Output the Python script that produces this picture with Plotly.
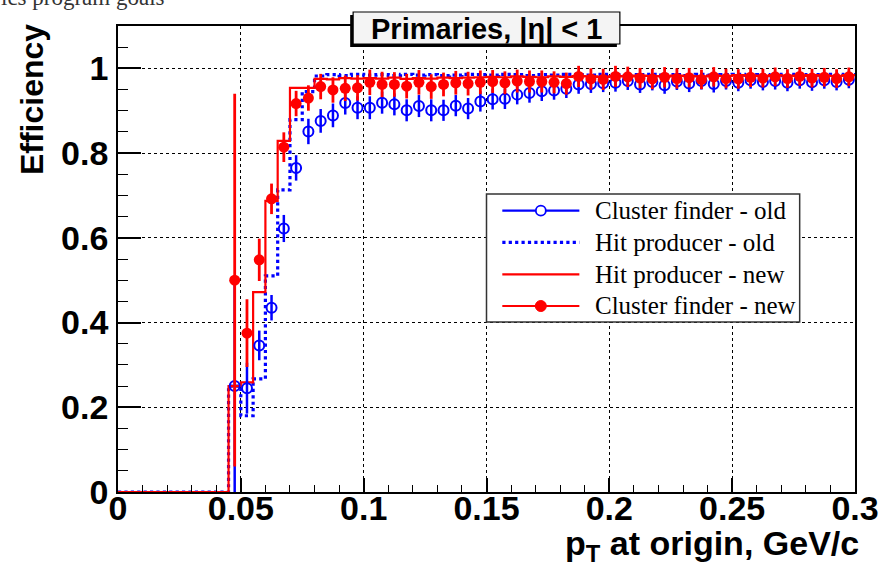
import plotly.graph_objects as go

# ---------------- data ----------------
bin_edges = [0.0, 0.005, 0.01, 0.015, 0.02, 0.025, 0.03, 0.035, 0.04, 0.045,
             0.05, 0.055, 0.06, 0.065, 0.07, 0.075, 0.08, 0.085, 0.09, 0.095,
             0.1, 0.105, 0.11, 0.115, 0.12, 0.125, 0.13, 0.135, 0.14, 0.145,
             0.15, 0.155, 0.16, 0.165, 0.17, 0.175, 0.18, 0.185, 0.19, 0.195,
             0.2, 0.205, 0.21, 0.215, 0.22, 0.225, 0.23, 0.235, 0.24, 0.245,
             0.25, 0.255, 0.26, 0.265, 0.27, 0.275, 0.28, 0.285, 0.29, 0.295, 0.3]

hit_new = [0, 0, 0, 0, 0, 0, 0, 0, 0, 0.250,
           0.259, 0.472, 0.687, 0.829, 0.954, 0.954, 0.975, 0.974, 0.977, 0.976,
           0.977, 0.976, 0.978, 0.975, 0.977, 0.976, 0.978, 0.977, 0.978, 0.979,
           0.980, 0.979, 0.981, 0.980, 0.979, 0.981, 0.980, 0.982, 0.981, 0.980,
           0.982, 0.981, 0.983, 0.982, 0.981, 0.983, 0.982, 0.981, 0.983, 0.982,
           0.984, 0.983, 0.982, 0.984, 0.983, 0.982, 0.984, 0.983, 0.982, 0.984]

hit_old = [0, 0, 0, 0, 0, 0, 0, 0, 0, 0.250,
           0.180, 0.267, 0.510, 0.713, 0.879, 0.945, 0.982, 0.985, 0.983, 0.986,
           0.984, 0.985, 0.983, 0.986, 0.984, 0.985, 0.983, 0.984, 0.986, 0.985,
           0.984, 0.986, 0.985, 0.983, 0.985, 0.984, 0.986, 0.985, 0.984, 0.986,
           0.985, 0.983, 0.985, 0.986, 0.984, 0.985, 0.983, 0.986, 0.984, 0.985,
           0.986, 0.984, 0.985, 0.983, 0.986, 0.985, 0.984, 0.985, 0.986, 0.985]

pt_centers = [0.0475, 0.0525, 0.0575, 0.0625, 0.0675, 0.0725, 0.0775, 0.0825, 0.0875, 0.0925,
              0.0975, 0.1025, 0.1075, 0.1125, 0.1175, 0.1225, 0.1275, 0.1325, 0.1375, 0.1425,
              0.1475, 0.1525, 0.1575, 0.1625, 0.1675, 0.1725, 0.1775, 0.1825, 0.1875, 0.1925,
              0.1975, 0.2025, 0.2075, 0.2125, 0.2175, 0.2225, 0.2275, 0.2325, 0.2375, 0.2425,
              0.2475, 0.2525, 0.2575, 0.2625, 0.2675, 0.2725, 0.2775, 0.2825, 0.2875, 0.2925,
              0.2975]

cluster_old = [0.250, 0.245, 0.346, 0.435, 0.622, 0.765, 0.851, 0.876, 0.889, 0.918,
               0.907, 0.907, 0.919, 0.915, 0.901, 0.911, 0.901, 0.901, 0.912, 0.905,
               0.922, 0.927, 0.928, 0.938, 0.942, 0.946, 0.948, 0.952, 0.962, 0.963,
               0.965, 0.966, 0.970, 0.962, 0.968, 0.960, 0.969, 0.964, 0.970, 0.963,
               0.970, 0.966, 0.972, 0.968, 0.970, 0.966, 0.972, 0.967, 0.972, 0.968,
               0.973]
cluster_old_err = [0.250, 0.060, 0.035, 0.030, 0.032, 0.030, 0.030, 0.028, 0.028, 0.027,
                   0.027, 0.027, 0.026, 0.026, 0.026, 0.026, 0.026, 0.025, 0.025, 0.025,
                   0.024, 0.024, 0.024, 0.023, 0.023, 0.023, 0.022, 0.022, 0.022, 0.021,
                   0.021, 0.021, 0.021, 0.020, 0.020, 0.020, 0.020, 0.020, 0.020, 0.020,
                   0.020, 0.020, 0.020, 0.020, 0.020, 0.020, 0.020, 0.020, 0.020, 0.020,
                   0.020]

cluster_new = [0.500, 0.375, 0.548, 0.692, 0.814, 0.917, 0.930, 0.957, 0.949, 0.953,
               0.954, 0.967, 0.962, 0.962, 0.958, 0.967, 0.957, 0.962, 0.966, 0.964,
               0.967, 0.969, 0.966, 0.970, 0.969, 0.969, 0.967, 0.964, 0.981, 0.975,
               0.974, 0.981, 0.980, 0.977, 0.975, 0.979, 0.976, 0.978, 0.974, 0.980,
               0.976, 0.975, 0.979, 0.977, 0.980, 0.976, 0.981, 0.977, 0.979, 0.976,
               0.980]
cluster_new_err = [0.440, 0.080, 0.050, 0.036, 0.035, 0.030, 0.030, 0.030, 0.030, 0.030,
                   0.030, 0.030, 0.030, 0.029, 0.029, 0.029, 0.029, 0.028, 0.028, 0.028,
                   0.028, 0.027, 0.027, 0.027, 0.026, 0.026, 0.026, 0.026, 0.025, 0.025,
                   0.025, 0.025, 0.024, 0.024, 0.024, 0.024, 0.024, 0.023, 0.023, 0.023,
                   0.023, 0.023, 0.023, 0.022, 0.022, 0.022, 0.022, 0.022, 0.022, 0.022,
                   0.022]

x_ticks = [0, 0.05, 0.1, 0.15, 0.2, 0.25, 0.3]
x_tick_labels = ["0", "0.05", "0.1", "0.15", "0.2", "0.25", "0.3"]
y_ticks = [0, 0.2, 0.4, 0.6, 0.8, 1.0]
y_tick_labels = ["0", "0.2", "0.4", "0.6", "0.8", "1"]

legend_labels = ["Cluster finder - old", "Hit producer - old",
                 "Hit producer - new", "Cluster finder - new"]

title_text = "Primaries, |η| < 1"
x_title = "p<sub>T</sub> at origin, GeV/c"
y_title = "Efficiency"

BLUE = "#0000ff"
RED = "#ff0000"

# ---------------- geometry helpers (pixels -> paper) ----------------
W, H = 891, 566
L, R, T, B = 118, 27, 26, 74
PW, PH = W - L - R, H - T - B


def px(xp):
    return (xp - L) / PW


def py(yp):
    return (H - B - yp) / PH


fig = go.Figure()

# histograms (step lines)
fig.add_trace(go.Scatter(
    x=bin_edges, y=hit_old + [hit_old[-1]], mode="lines", line_shape="hv",
    line=dict(color=BLUE, width=3.2, dash="dot"), showlegend=False))
fig.add_trace(go.Scatter(
    x=bin_edges, y=hit_new + [hit_new[-1]], mode="lines", line_shape="hv",
    line=dict(color=RED, width=2.2), showlegend=False))

# points with errors
fig.add_trace(go.Scatter(
    x=pt_centers, y=cluster_old, mode="markers",
    marker=dict(symbol="circle-open", size=10, color=BLUE, line=dict(width=2, color=BLUE)),
    error_y=dict(type="data", array=cluster_old_err, color=BLUE, thickness=2.5, width=0),
    showlegend=False))
fig.add_trace(go.Scatter(
    x=pt_centers, y=cluster_new, mode="markers",
    marker=dict(symbol="circle", size=11, color=RED),
    error_y=dict(type="data", array=cluster_new_err, color=RED, thickness=2.8, width=0),
    showlegend=False))

tickfont = dict(family="Liberation Sans", size=34, color="black", weight="bold")

fig.update_xaxes(
    range=[0, 0.3], tickmode="array", tickvals=x_ticks, ticktext=x_tick_labels,
    ticks="inside", ticklen=14, tickwidth=1.5, tickcolor="black",
    minor=dict(dtick=0.01, tick0=0, ticks="inside", ticklen=7, tickwidth=1.2,
               tickcolor="black", showgrid=False),
    showgrid=True, gridcolor="black", griddash="dot", gridwidth=1,
    showline=True, mirror=True, linecolor="black", linewidth=1.8,
    zeroline=False, tickfont=tickfont, ticklabelstandoff=-15)
fig.update_yaxes(
    range=[0, 1.1], tickmode="array", tickvals=y_ticks, ticktext=y_tick_labels,
    ticks="inside", ticklen=23, tickwidth=1.5, tickcolor="black",
    minor=dict(dtick=0.05, tick0=0, ticks="inside", ticklen=10, tickwidth=1.2,
               tickcolor="black", showgrid=False),
    showgrid=True, gridcolor="black", griddash="dot", gridwidth=1,
    showline=True, mirror=True, linecolor="black", linewidth=1.8,
    zeroline=False, tickfont=tickfont, ticklabelstandoff=1)

shapes = []
annotations = []

# ---- legend box (drawn by hand, ROOT style) ----
lx0, ly0, lx1, ly1 = 491, 194, 808, 322
shapes.append(dict(type="rect", xref="paper", yref="paper",
                   x0=px(lx0), x1=px(lx1), y0=py(ly1), y1=py(ly0),
                   fillcolor="white", line=dict(color="#333333", width=1.5), layer="above"))
rows = [210.7, 242.3, 274.3, 306]
seg_x0, seg_x1, mark_x, text_x = 507, 585, 546, 599
legend_styles = [
    dict(color=BLUE, dash="solid", width=2.2, marker="open"),
    dict(color=BLUE, dash="dot", width=3.2, marker=None),
    dict(color=RED, dash="solid", width=2.2, marker=None),
    dict(color=RED, dash="solid", width=2.2, marker="filled"),
]
for label, ry, st in zip(legend_labels, rows, legend_styles):
    shapes.append(dict(type="line", xref="paper", yref="paper",
                       x0=px(seg_x0), x1=px(seg_x1), y0=py(ry), y1=py(ry),
                       line=dict(color=st["color"], width=st["width"], dash=st["dash"]),
                       layer="above"))
    if st["marker"] == "open":
        shapes.append(dict(type="circle", xref="paper", yref="paper",
                           xsizemode="pixel", ysizemode="pixel",
                           xanchor=px(mark_x), yanchor=py(ry), x0=-5, x1=5, y0=-5, y1=5,
                           fillcolor="white", line=dict(color=BLUE, width=1.8), layer="above"))
    elif st["marker"] == "filled":
        shapes.append(dict(type="circle", xref="paper", yref="paper",
                           xsizemode="pixel", ysizemode="pixel",
                           xanchor=px(mark_x), yanchor=py(ry), x0=-5.5, x1=5.5, y0=-5.5, y1=5.5,
                           fillcolor=RED, line=dict(color=RED, width=1), layer="above"))
    annotations.append(dict(xref="paper", yref="paper", x=px(text_x), y=py(ry),
                            xanchor="left", yanchor="middle", showarrow=False,
                            text=label,
                            font=dict(family="Liberation Serif", size=25, color="black")))

# ---- title box with shadow ----
shapes.append(dict(type="rect", xref="paper", yref="paper",
                   x0=px(353), x1=px(623), y0=py(47), y1=py(15),
                   fillcolor="black", line=dict(width=0), layer="above"))
shapes.append(dict(type="rect", xref="paper", yref="paper",
                   x0=px(356), x1=px(626), y0=py(44), y1=py(12),
                   fillcolor="#f4f4f4", line=dict(color="black", width=1.2), layer="above"))
annotations.append(dict(xref="paper", yref="paper", x=px(491), y=py(28.5),
                        xanchor="center", yanchor="middle", showarrow=False,
                        text="<b>" + title_text + "</b>",
                        font=dict(family="Liberation Sans", size=29, color="black")))

# ---- axis titles ----
annotations.append(dict(xref="paper", yref="paper", x=px(31), y=py(100),
                        xanchor="center", yanchor="middle", showarrow=False, textangle=-90,
                        text="<b>" + y_title + "</b>",
                        font=dict(family="Liberation Sans", size=32, color="black")))
annotations.append(dict(xref="paper", yref="paper", x=px(870), y=py(545),
                        xanchor="right", yanchor="middle", showarrow=False,
                        text="<b>" + x_title + "</b>",
                        font=dict(family="Liberation Sans", size=34, color="black")))

# ---- clipped slide text at the very top ----
annotations.append(dict(xref="paper", yref="paper", x=px(-2), y=py(-2),
                        xanchor="left", yanchor="middle", showarrow=False,
                        text="ics program goals",
                        font=dict(family="Liberation Serif", size=23, color="#333333")))

fig.update_layout(
    width=W, height=H, margin=dict(l=L, r=R, t=T, b=B, pad=0),
    paper_bgcolor="white", plot_bgcolor="white",
    shapes=shapes, annotations=annotations, showlegend=False)

fig.write_html("out.html")
